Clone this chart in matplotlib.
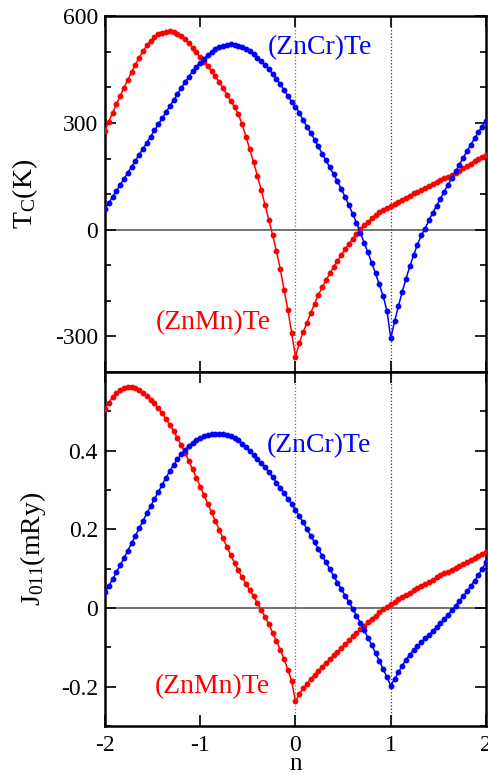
import matplotlib
matplotlib.use("Agg")
import matplotlib.pyplot as plt
import numpy as np
from matplotlib.ticker import MultipleLocator

plt.rcParams['font.family'] = ['Liberation Serif', 'DejaVu Serif']
plt.rcParams['mathtext.fontset'] = 'custom'
plt.rcParams['mathtext.rm'] = 'Liberation Serif'
plt.rcParams['mathtext.it'] = 'Liberation Serif:italic'

# n values, step 0.04 from -2 to 2
n = np.linspace(-2, 2, 101)

# T_C (K) for (ZnCr)Te
tc_cr = [58, 75, 92, 109, 126, 143, 160, 177, 194, 211,
         228, 245, 262, 279, 296, 313, 330, 347, 364, 381,
         398, 414, 430, 445, 458, 470, 481, 491, 500, 507,
         513, 517, 520, 521, 520, 517, 513, 508, 501, 493,
         484, 474, 463, 451, 438, 424, 409, 393, 376, 360,
         346, 328, 309, 290, 272, 253, 234, 214, 195, 175,
         156, 136, 115, 93, 69, 45, 19, -8, -36, -64,
         -93, -123, -154, -187, -228, -305, -258, -215, -175, -138,
         -103, -71, -42, -16, 3, 26, 47, 67, 87, 107,
         126, 145, 164, 183, 202, 221, 239, 257, 274, 290,
         305]

# T_C (K) for (ZnMn)Te
tc_mn = [278, 304, 328, 352, 376, 399, 421, 443, 464, 484,
         502, 518, 531, 541, 549, 554, 557, 558, 556, 551,
         544, 535, 524, 512, 499, 485, 472, 459, 445, 431,
         415, 398, 380, 362, 345, 325, 296, 262, 226, 190,
         152, 112, 70, 28, -14, -61, -110, -169, -225, -290,
         -358, -318, -288, -262, -234, -208, -184, -162, -142, -123,
         -105, -88, -71, -55, -40, -26, -12, 1, 12, 22,
         32, 41, 49, 56, 62, 66, 72, 78, 84, 90,
         96, 102, 107, 112, 117, 122, 128, 133, 139, 144,
         149, 154, 160, 166, 173, 180, 186, 193, 199, 205,
         211]

# J_011 (mRy) for (ZnCr)Te
j_cr = [0.040, 0.056, 0.073, 0.091, 0.109, 0.127, 0.146, 0.165, 0.184, 0.203,
        0.222, 0.241, 0.259, 0.277, 0.295, 0.313, 0.331, 0.348, 0.364, 0.378,
        0.391, 0.402, 0.412, 0.420, 0.427, 0.433, 0.437, 0.440, 0.442, 0.443,
        0.443, 0.442, 0.440, 0.437, 0.432, 0.426, 0.418, 0.409, 0.400, 0.390,
        0.380, 0.369, 0.358, 0.346, 0.333, 0.319, 0.305, 0.292, 0.278, 0.264,
        0.250, 0.234, 0.218, 0.201, 0.184, 0.167, 0.150, 0.133, 0.116, 0.099,
        0.082, 0.065, 0.049, 0.032, 0.016, -0.001, -0.019, -0.037, -0.056, -0.075,
        -0.094, -0.114, -0.134, -0.155, -0.176, -0.197, -0.180, -0.163, -0.146, -0.131,
        -0.118, -0.107, -0.097, -0.087, -0.077, -0.068, -0.058, -0.048, -0.038, -0.028,
        -0.017, -0.006, 0.006, 0.018, 0.030, 0.043, 0.056, 0.070, 0.084, 0.100,
        0.117]

# J_011 (mRy) for (ZnMn)Te
j_mn = [0.506, 0.522, 0.536, 0.547, 0.555, 0.560, 0.562, 0.562, 0.559, 0.554,
        0.547, 0.539, 0.530, 0.520, 0.508, 0.495, 0.481, 0.466, 0.450, 0.433,
        0.415, 0.395, 0.374, 0.353, 0.331, 0.309, 0.287, 0.265, 0.243, 0.221,
        0.199, 0.177, 0.156, 0.135, 0.115, 0.096, 0.078, 0.061, 0.046, 0.030,
        0.013, -0.004, -0.022, -0.041, -0.062, -0.083, -0.106, -0.130, -0.156, -0.186,
        -0.237, -0.218, -0.204, -0.192, -0.180, -0.169, -0.159, -0.149, -0.139, -0.130,
        -0.120, -0.111, -0.101, -0.092, -0.082, -0.072, -0.063, -0.054, -0.045, -0.036,
        -0.027, -0.019, -0.011, -0.003, 0.004, 0.010, 0.016, 0.022, 0.028, 0.034,
        0.039, 0.045, 0.050, 0.056, 0.061, 0.067, 0.072, 0.078, 0.083, 0.088,
        0.093, 0.098, 0.103, 0.108, 0.113, 0.118, 0.123, 0.128, 0.133, 0.138,
        0.142]

xticks = [-2, -1, 0, 1, 2]
tc_ticks = [-300, 0, 300, 600]
j_ticks = [-0.2, 0, 0.2, 0.4]
j_ticklabels = ['-0.2', '0', '0.2', '0.4']

RED = '#ff0000'
BLUE = '#0000ff'

fig = plt.figure(figsize=(4.88, 7.75), dpi=100)
ax1 = fig.add_axes([0.215, 0.520, 0.781, 0.459])
ax2 = fig.add_axes([0.215, 0.063, 0.781, 0.457], sharex=ax1)

for ax in (ax1, ax2):
    ax.axvline(0, color='0.45', ls=':', lw=0.9, zorder=1)
    ax.axvline(1, color='0.2', ls=':', lw=0.9, zorder=1)
    ax.axhline(0, color='0.3', lw=1.1, zorder=1)

ax1.plot(n, tc_mn, '-o', color=RED, ms=3.2, lw=1.1, zorder=3)
ax1.plot(n, tc_cr, '-o', color=BLUE, ms=3.2, lw=1.1, zorder=3)
ax2.plot(n, j_mn, '-o', color=RED, ms=3.2, lw=1.1, zorder=3)
ax2.plot(n, j_cr, '-o', color=BLUE, ms=3.2, lw=1.1, zorder=3)

ax1.set_xlim(-2, 2)
ax1.set_ylim(-400, 600)
ax1.set_yticks(tc_ticks)
ax1.set_yticklabels([str(t) for t in tc_ticks])
ax1.yaxis.set_minor_locator(MultipleLocator(100))
ax2.set_ylim(-0.3, 0.6)
ax2.set_yticks(j_ticks)
ax2.set_yticklabels(j_ticklabels)
ax2.yaxis.set_minor_locator(MultipleLocator(0.1))
ax2.set_xticks(xticks)
ax2.set_xticklabels([str(t) for t in xticks])
ax1.tick_params(labelbottom=False)

for ax in (ax1, ax2):
    ax.tick_params(which='both', direction='in', top=True, right=True,
                   labelsize=17, width=1.2)
    ax.tick_params(which='major', length=8, pad=5)
    ax.tick_params(which='minor', length=4)
    for s in ax.spines.values():
        s.set_linewidth(1.8)
ax2.tick_params(axis='x', pad=6)

ax1.set_ylabel(r'T$_\mathrm{C}$(K)', fontsize=20, labelpad=11)
ax2.set_ylabel(r'J$_\mathrm{011}$(mRy)', fontsize=20, labelpad=9)
ax2.set_xlabel('n', fontsize=18, va='baseline')
ax2.xaxis.set_label_coords(0.5, -0.124)

ax1.text(-0.29, 512, '(ZnCr)Te', color=BLUE, fontsize=20, va='center', ha='left')
ax1.text(-1.47, -262, '(ZnMn)Te', color=RED, fontsize=20, va='center', ha='left')
ax2.text(-0.30, 0.412, '(ZnCr)Te', color=BLUE, fontsize=20, va='center', ha='left')
ax2.text(-1.48, -0.20, '(ZnMn)Te', color=RED, fontsize=20, va='center', ha='left')

fig.savefig('out.png', dpi=100)
